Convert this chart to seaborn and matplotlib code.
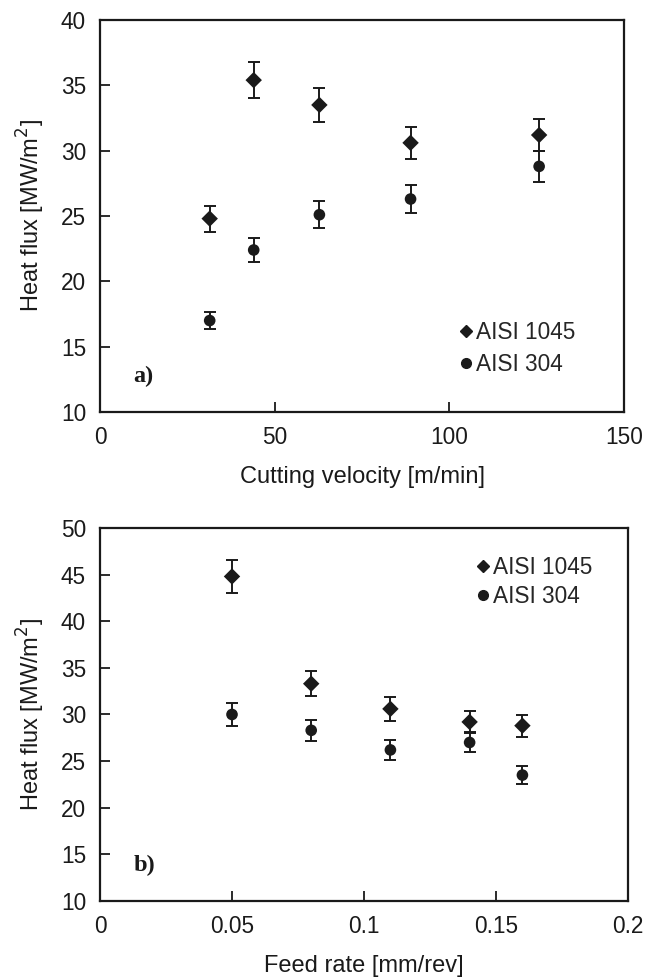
import numpy as np
import pandas as pd
import matplotlib
matplotlib.use("Agg")
import matplotlib.pyplot as plt
import seaborn as sns
from matplotlib.lines import Line2D

# ---- data ----
materials = ["AISI 1045", "AISI 304"]

velocity = [31.4, 44.0, 62.8, 88.9, 125.7]
flux_v_1045 = [24.8, 35.4, 33.5, 30.6, 31.2]
err_v_1045 = [1.0, 1.4, 1.33, 1.23, 1.25]
flux_v_304 = [17.0, 22.4, 25.1, 26.3, 28.8]
err_v_304 = [0.66, 0.9, 1.03, 1.05, 1.16]

feed = [0.05, 0.08, 0.11, 0.14, 0.16]
flux_f_1045 = [44.8, 33.3, 30.6, 29.2, 28.8]
err_f_1045 = [1.8, 1.33, 1.27, 1.2, 1.18]
flux_f_304 = [30.0, 28.3, 26.2, 27.0, 23.5]
err_f_304 = [1.23, 1.15, 1.04, 1.07, 0.95]

xticks_top = [0, 50, 100, 150]
xticks_bot = [0, 0.05, 0.1, 0.15, 0.2]
xticklabels_bot = ["0", "0.05", "0.1", "0.15", "0.2"]
yticks_top = [10, 15, 20, 25, 30, 35, 40]
yticks_bot = [10, 15, 20, 25, 30, 35, 40, 45, 50]

sns.set_theme(style="white")
plt.rcParams["font.family"] = ["Liberation Sans", "DejaVu Sans"]
FS = 16.3
FL = 17.0
INK = "#1a1a1a"

fig = plt.figure(figsize=(6.57, 9.77), dpi=100)
ax1 = fig.add_axes([0.1522, 0.5783, 0.7976, 0.4012])
ax2 = fig.add_axes([0.1522, 0.0778, 0.8037, 0.3818])

markers = {"AISI 1045": "D", "AISI 304": "o"}


def panel(ax, x, y1, e1, y2, e2, label, xlim, ylim, xt, xtl, yt, xlabel, leg_anchor, leg_spacing, tag_y):
    df = pd.DataFrame({
        "x": list(x) + list(x),
        "y": list(y1) + list(y2),
        "material": [materials[0]] * len(x) + [materials[1]] * len(x),
    })
    for mat, yy, ee in [(materials[0], y1, e1), (materials[1], y2, e2)]:
        ax.errorbar(x, yy, yerr=ee, fmt="none", ecolor=INK, elinewidth=1.4,
                    capsize=4.5, capthick=1.4, zorder=2)
    sns.scatterplot(data=df, x="x", y="y", style="material", markers=markers,
                    hue="material", palette={m: INK for m in materials},
                    s=70, edgecolor=INK, linewidth=0, legend=False, ax=ax, zorder=3)
    ax.set_xlim(*xlim)
    ax.set_ylim(*ylim)
    ax.set_xticks(xt)
    ax.set_xticklabels(xtl, fontsize=FS, color=INK)
    ax.set_yticks(yt)
    ax.set_yticklabels([str(v) for v in yt], fontsize=FS, color=INK)
    ax.set_xlabel(xlabel, fontsize=FL, color=INK, labelpad=12)
    ax.set_ylabel("Heat flux [MW/m$^2$]", fontsize=FL, color=INK, labelpad=10)
    ax.tick_params(axis="both", direction="in", length=7, width=1.3, colors=INK,
                   left=True, bottom=True, top=False, right=False, pad=10)
    for sp in ax.spines.values():
        sp.set_visible(True)
        sp.set_color(INK)
        sp.set_linewidth(1.6)
    handles = [
        Line2D([], [], marker="D", color=INK, linestyle="none", markersize=6),
        Line2D([], [], marker="o", color=INK, linestyle="none", markersize=7),
    ]
    ax.legend(handles, materials, loc="center left", bbox_to_anchor=leg_anchor,
              frameon=False, fontsize=FS, handlelength=0.6, handletextpad=0.15,
              labelspacing=leg_spacing, borderaxespad=0, borderpad=0)
    ax.text(0.063, tag_y, label, transform=ax.transAxes, fontsize=17.5,
            fontweight="bold", family=["Liberation Serif", "DejaVu Serif"],
            va="center", ha="left", color=INK)


panel(ax1, velocity, flux_v_1045, err_v_1045, flux_v_304, err_v_304, "a)",
      (0, 150), (10, 40), xticks_top, [str(v) for v in xticks_top], yticks_top,
      "Cutting velocity [m/min]", (0.685, 0.163), 0.4, 0.09)
panel(ax2, feed, flux_f_1045, err_f_1045, flux_f_304, err_f_304, "b)",
      (0, 0.2), (10, 50), xticks_bot, xticklabels_bot, yticks_bot,
      "Feed rate [mm/rev]", (0.712, 0.856), 0.27, 0.095)

fig.savefig("out.png", dpi=100)
